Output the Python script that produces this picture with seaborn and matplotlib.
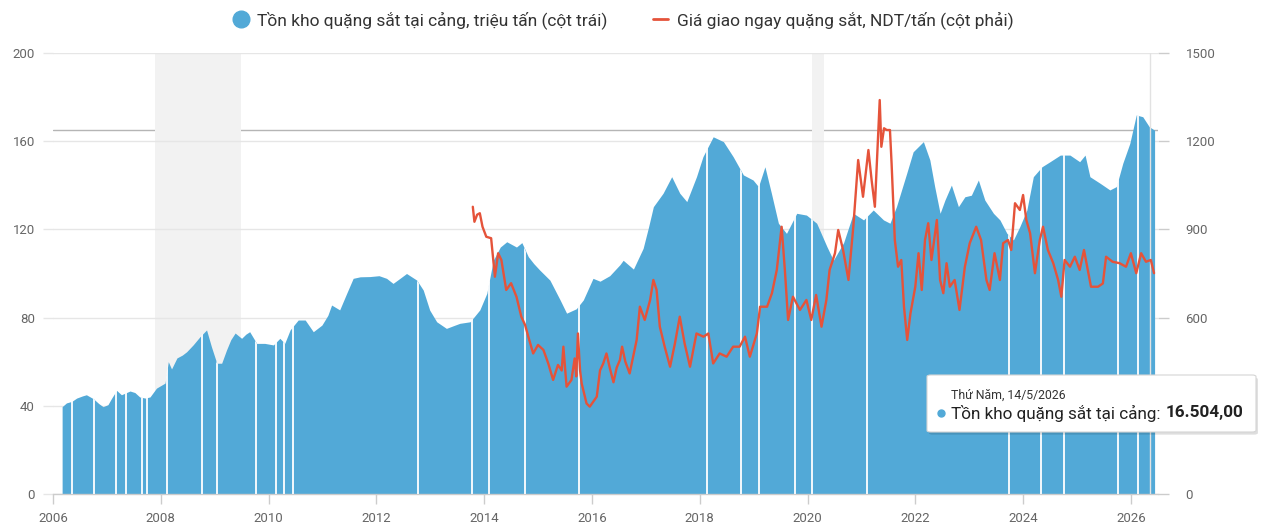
import numpy as np
import pandas as pd
import matplotlib
matplotlib.use("Agg")
import matplotlib.pyplot as plt
from matplotlib.lines import Line2D
from matplotlib.patches import FancyBboxPatch
import seaborn as sns

# Port inventory, million tonnes (left axis)
inv_years = [
    2006.17, 2006.25, 2006.35, 2006.44, 2006.55, 2006.62, 2006.75, 2006.85, 2006.93,
    2007.02, 2007.09, 2007.18, 2007.27, 2007.43, 2007.52, 2007.61, 2007.71, 2007.80,
    2007.92, 2008.08, 2008.14, 2008.20, 2008.30, 2008.40, 2008.48, 2008.60, 2008.73,
    2008.85, 2008.94, 2009.04, 2009.13, 2009.22, 2009.30, 2009.38, 2009.50, 2009.58,
    2009.65, 2009.78, 2009.93, 2010.09, 2010.21, 2010.30, 2010.40, 2010.55, 2010.68,
    2010.83, 2010.99, 2011.10, 2011.17, 2011.32, 2011.45, 2011.57, 2011.70, 2011.88,
    2012.05, 2012.19, 2012.31, 2012.45, 2012.56, 2012.75, 2012.87, 2012.99, 2013.12,
    2013.30, 2013.45, 2013.55, 2013.74, 2013.92, 2014.05, 2014.17, 2014.30, 2014.42,
    2014.60, 2014.70, 2014.82, 2014.92, 2015.03, 2015.22, 2015.41, 2015.53, 2015.71,
    2015.84, 2016.02, 2016.15, 2016.33, 2016.52, 2016.58, 2016.77, 2016.95, 2017.05,
    2017.14, 2017.32, 2017.48, 2017.63, 2017.76, 2017.94, 2018.06, 2018.25, 2018.44,
    2018.62, 2018.81, 2018.99, 2019.09, 2019.21, 2019.33, 2019.46, 2019.61, 2019.80,
    2019.98, 2020.17, 2020.36, 2020.48, 2020.67, 2020.85, 2021.04, 2021.22, 2021.41,
    2021.53, 2021.65, 2021.84, 2021.96, 2022.15, 2022.27, 2022.36, 2022.46, 2022.55,
    2022.67, 2022.80, 2022.92, 2023.04, 2023.17, 2023.29, 2023.45, 2023.57, 2023.70,
    2023.82, 2023.94, 2024.07, 2024.19, 2024.35, 2024.50, 2024.69, 2024.87, 2025.05,
    2025.15, 2025.24, 2025.43, 2025.61, 2025.73, 2025.85, 2025.98, 2026.10, 2026.22,
    2026.34, 2026.44,
]
inv_mt = [
    39.6, 41.3, 42.0, 43.5, 44.5, 45.0, 43.2, 41.0, 39.6,
    40.5, 43.5, 47.0, 45.0, 46.7, 46.0, 44.0, 43.5, 44.0,
    48.0, 50.3, 60.0, 56.7, 61.7, 63.0, 64.5, 67.6, 71.4,
    74.4, 66.8, 59.3, 59.3, 65.3, 70.0, 73.0, 70.6, 72.5,
    73.6, 68.3, 68.3, 67.6, 70.6, 68.3, 74.4, 78.9, 78.9,
    73.6, 76.6, 81.0, 85.7, 83.5, 91.0, 97.8, 98.5, 98.6,
    99.0, 97.8, 95.5, 98.0, 100.0, 97.0, 92.5, 83.4, 78.1,
    75.1, 76.5, 77.4, 78.1, 83.5, 91.0, 106.0, 112.0, 114.4,
    112.0, 114.0, 107.6, 104.5, 101.6, 97.0, 88.0, 82.0, 84.0,
    88.0, 97.8, 96.5, 99.0, 104.0, 106.0, 102.0, 111.4, 121.0,
    130.3, 136.4, 143.9, 136.4, 132.6, 143.9, 153.0, 162.0, 159.8,
    153.0, 144.7, 142.4, 139.4, 148.4, 136.4, 122.8, 118.2, 127.3,
    126.5, 122.8, 112.2, 106.0, 114.0, 127.3, 124.3, 128.8, 124.3,
    122.8, 130.3, 145.4, 155.2, 159.8, 151.5, 139.4, 127.3, 133.3,
    140.1, 130.3, 134.8, 135.5, 142.4, 133.3, 127.3, 124.3, 118.2,
    115.2, 121.3, 128.8, 143.9, 148.4, 150.7, 153.7, 153.7, 150.7,
    153.7, 143.9, 140.9, 137.9, 139.4, 150.0, 159.0, 171.9, 171.1,
    166.6, 165.0,
]

# Spot price, CNY/tonne (right axis)
price_years = [
    2013.79, 2013.82, 2013.87, 2013.92, 2013.97, 2014.04, 2014.13, 2014.17, 2014.20,
    2014.26, 2014.32, 2014.41, 2014.50, 2014.60, 2014.69, 2014.76, 2014.82, 2014.91,
    2015.00, 2015.10, 2015.19, 2015.28, 2015.37, 2015.44, 2015.47, 2015.53, 2015.62,
    2015.68, 2015.71, 2015.74, 2015.78, 2015.81, 2015.90, 2015.96, 2016.09, 2016.15,
    2016.21, 2016.27, 2016.33, 2016.40, 2016.46, 2016.52, 2016.56, 2016.62, 2016.70,
    2016.83, 2016.89, 2016.98, 2017.08, 2017.14, 2017.20, 2017.26, 2017.35, 2017.45,
    2017.54, 2017.63, 2017.72, 2017.82, 2017.94, 2018.07, 2018.16, 2018.25, 2018.37,
    2018.50, 2018.62, 2018.74, 2018.84, 2018.93, 2019.06, 2019.12, 2019.25, 2019.34,
    2019.43, 2019.52, 2019.58, 2019.64, 2019.73, 2019.86, 2019.98, 2020.07, 2020.16,
    2020.26, 2020.35, 2020.41, 2020.51, 2020.57, 2020.66, 2020.76, 2020.85, 2020.94,
    2021.03, 2021.13, 2021.19, 2021.25, 2021.34, 2021.37, 2021.42, 2021.47, 2021.53,
    2021.56, 2021.62, 2021.68, 2021.74, 2021.79, 2021.85, 2021.91, 2022.00, 2022.06,
    2022.12, 2022.18, 2022.24, 2022.30, 2022.40, 2022.46, 2022.52, 2022.58, 2022.64,
    2022.73, 2022.82, 2022.92, 2023.01, 2023.13, 2023.22, 2023.32, 2023.38, 2023.47,
    2023.57, 2023.63, 2023.72, 2023.78, 2023.85, 2023.94, 2024.00, 2024.06, 2024.13,
    2024.22, 2024.31, 2024.37, 2024.46, 2024.56, 2024.65, 2024.71, 2024.77, 2024.87,
    2024.96, 2025.05, 2025.13, 2025.20, 2025.26, 2025.39, 2025.48, 2025.54, 2025.66,
    2025.79, 2025.91, 2026.00, 2026.10, 2026.19, 2026.28, 2026.37, 2026.43,
]
price_cny = [
    977, 926, 950, 955, 909, 875, 870, 796, 739,
    819, 796, 694, 717, 671, 603, 575, 535, 478,
    507, 490, 444, 388, 439, 420, 501, 365, 388,
    461, 400, 546, 420, 376, 308, 297, 331, 420,
    444, 478, 430, 380, 430, 456, 501, 450, 410,
    524, 637, 592, 660, 728, 694, 569, 501, 433,
    512, 603, 512, 433, 546, 535, 546, 444, 478,
    467, 501, 501, 535, 467, 546, 637, 637, 683,
    762, 909, 762, 592, 671, 626, 660, 592, 677,
    569, 660, 762, 819, 898, 830, 728, 909, 1136,
    1011, 1170, 1067, 977, 1340, 1181, 1244, 1238, 1238,
    1125, 864, 773, 796, 637, 524, 614, 705, 819,
    694, 864, 921, 796, 932, 728, 683, 785, 705,
    728, 626, 773, 853, 909, 864, 728, 694, 819,
    728, 853, 864, 830, 989, 966, 1017, 932, 887,
    751, 864, 909, 830, 785, 728, 671, 796, 773,
    807, 762, 830, 762, 705, 705, 716, 807, 790,
    785, 773, 819, 751, 819, 790, 796, 751,
]

# dates with no inventory reading (white gaps in the area)
gap_years = [
    2006.35, 2006.76, 2007.17, 2007.35, 2007.65, 2007.74, 2008.11, 2008.77, 2009.04,
    2009.77, 2010.14, 2010.29, 2010.46, 2012.77, 2013.77, 2014.09, 2014.76, 2015.76,
    2018.14, 2018.76, 2019.10, 2019.77, 2020.09, 2021.11, 2023.74, 2024.34, 2024.76,
    2025.76, 2026.14,
]
shaded_spans = [(2007.9, 2009.48), (2020.08, 2020.3)]

year_ticks = list(range(2006, 2027, 2))
left_ticks = [0, 40, 80, 120, 160, 200]
right_ticks = [0, 300, 600, 900, 1200, 1500]
# the 300 label sits under the tooltip in the original, so it is left blank
right_tick_labels = ["0", "", "600", "900", "1200", "1500"]

inv_label = "Tồn kho quặng sắt tại cảng, triệu tấn (cột trái)"
price_label = "Giá giao ngay quặng sắt, NDT/tấn (cột phải)"

hover_year = 2026.36
hover_value = 165.04
hover_date = "Thứ Năm, 14/5/2026"
hover_name = "Tồn kho quặng sắt tại cảng:"
hover_text = "16.504,00"

BLUE = "#52a9d7"
RED = "#e5533a"
TXT = "#666666"

sns.set_theme(style="white")
plt.rcParams["font.family"] = ["Roboto", "DejaVu Sans"]

fig = plt.figure(figsize=(12.64, 5.29), dpi=100)
ax = fig.add_axes([0.0419, 0.0662, 0.8741, 0.8336])
ax2 = ax.twinx()

# crosshair, shaded periods, grid
ax.axhline(hover_value, color="#b5b5b5", lw=1, zorder=0.2)
for start, end in shaded_spans:
    ax.axvspan(start, end, color="#f2f2f2", lw=0, zorder=0.3)
ax.set_axisbelow(True)
ax.grid(axis="y", color="#e6e6e6", lw=1)

inv_df = pd.DataFrame({"year": inv_years, "stock": inv_mt})
poly = ax.fill_between(inv_df["year"], 0, inv_df["stock"], color=BLUE, lw=0, zorder=2)
gaps = ax.vlines(gap_years, 0, 200, color="white", lw=1.3, zorder=3)
gaps.set_clip_path(poly.get_paths()[0], poly.get_transform())
ax.axvline(hover_year, color="#e2e2e2", lw=1, zorder=3)

price_df = pd.DataFrame({"year": price_years, "price": price_cny})
sns.lineplot(data=price_df, x="year", y="price", ax=ax2, color=RED, lw=1.7)

ax.set_xlim(2006, 2026.5)
ax.set_ylim(0, 200)
ax2.set_ylim(0, 1500)
ax.set_xticks(year_ticks)
ax.set_yticks(left_ticks)
ax2.set_yticks(right_ticks)
ax2.set_yticklabels(right_tick_labels)
ax.set_xlabel("")
ax.set_ylabel("")
ax2.set_xlabel("")
ax2.set_ylabel("")

for s in ["top", "left", "right"]:
    ax.spines[s].set_visible(False)
for s in ax2.spines.values():
    s.set_visible(False)
ax.spines["bottom"].set_color("#cccccc")
ax.spines["bottom"].set_linewidth(1)

ax.tick_params(axis="x", bottom=True, length=7, width=1, color="#cccccc",
               pad=6, labelsize=9.5, labelcolor=TXT)
ax.tick_params(axis="y", left=True, length=7, width=1, color="#e6e6e6",
               pad=6, labelsize=9.5, labelcolor=TXT)
ax2.tick_params(axis="y", right=True, length=8, width=1, color="#cccccc",
                pad=12, labelsize=9.5, labelcolor=TXT)

# legend at the top
handles = [
    Line2D([], [], marker="o", ls="none", ms=12, color=BLUE, label=inv_label),
    Line2D([], [], color=RED, lw=2, label=price_label),
]
fig.legend(handles=handles, loc="center", bbox_to_anchor=(0.493, 0.962), ncol=2,
           frameon=False, fontsize=12.5, handlelength=0.9, handletextpad=0.5,
           columnspacing=2.6, labelcolor="#333333")

# tooltip box
bx0, by0, bw, bh = 927 / 1264, 1 - 432 / 529, 329 / 1264, 57 / 529
shadow = FancyBboxPatch((bx0 + 0.0015, by0 - 0.005), bw, bh,
                        boxstyle="round,pad=0,rounding_size=0.003",
                        transform=fig.transFigure, facecolor="#000000", alpha=0.13,
                        lw=0, zorder=5)
box = FancyBboxPatch((bx0, by0), bw, bh, boxstyle="round,pad=0,rounding_size=0.003",
                     transform=fig.transFigure, facecolor="white", edgecolor="#d5d5d5",
                     lw=0.8, zorder=6)
fig.add_artist(shadow)
fig.add_artist(box)
fig.text(951 / 1264, 1 - 395 / 529, hover_date, fontsize=8.8, color="#333333",
         va="center", zorder=7)
fig.add_artist(Line2D([941 / 1264], [1 - 413 / 529], marker="o", ms=5, color=BLUE,
                      transform=fig.transFigure, zorder=7))
name_txt = fig.text(951 / 1264, 1 - 413 / 529, hover_name, fontsize=12.3,
                    color="#222222", va="center", zorder=7)
renderer = fig.canvas.get_renderer()
ext = name_txt.get_window_extent(renderer=renderer)
fig.text((ext.x1 + 5) / fig.bbox.width, 1 - 413 / 529, hover_text, fontsize=12.3,
         fontweight="bold", color="#222222", va="center", zorder=7)

fig.savefig("out.png", dpi=100)
